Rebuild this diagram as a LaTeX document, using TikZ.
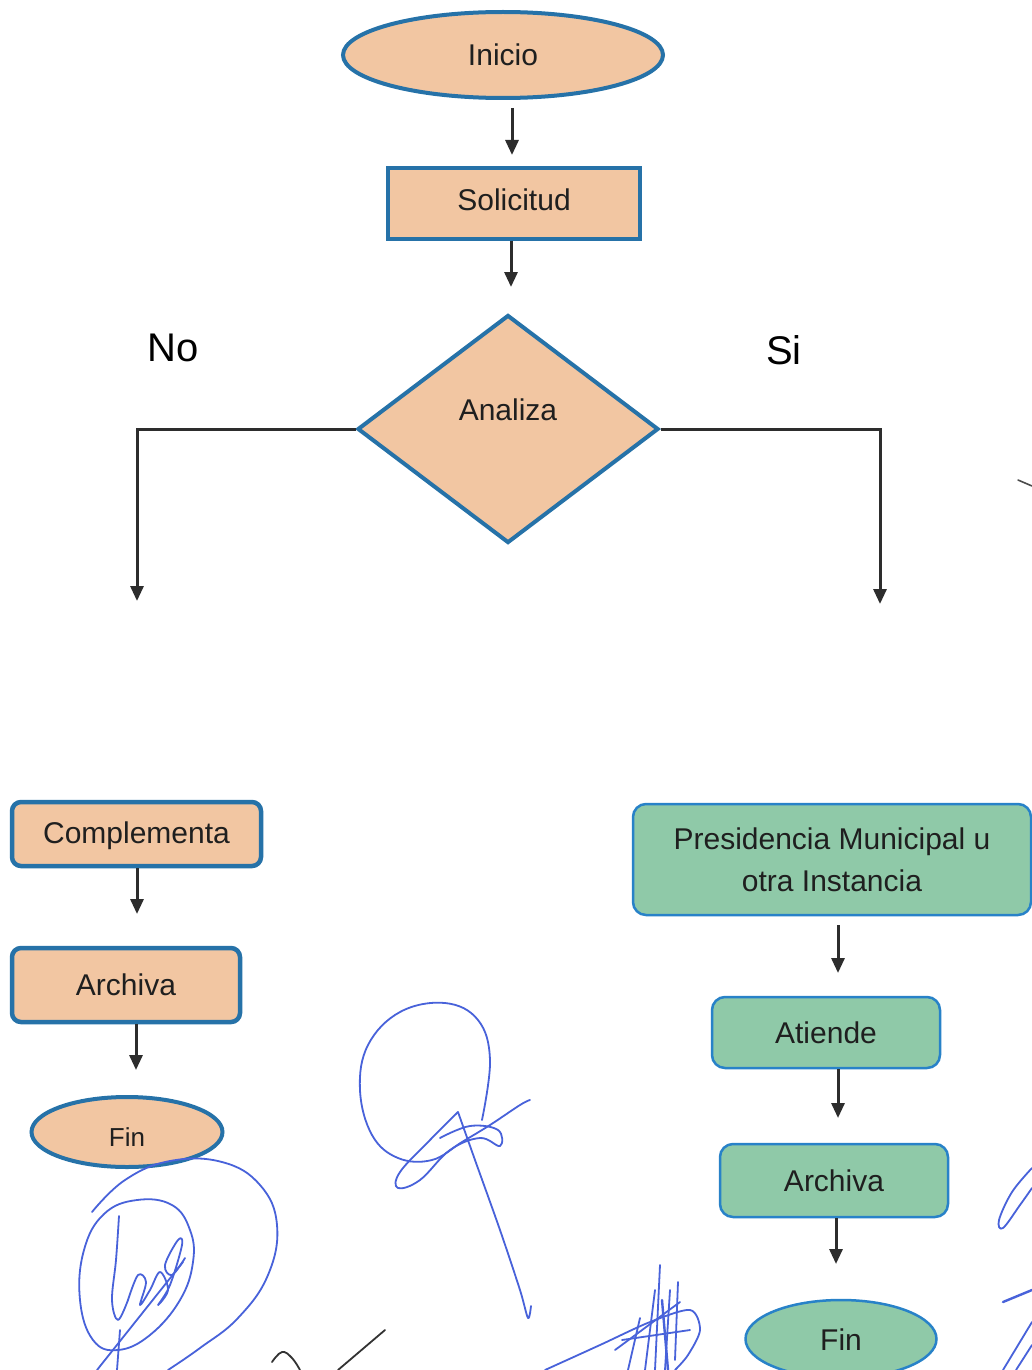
\documentclass[tikz,border=0pt]{standalone}
\usepackage{fontspec}
\setmainfont{Liberation Sans}
\usetikzlibrary{shapes.geometric,arrows.meta}

\definecolor{tan}{RGB}{242,198,162}
\definecolor{mint}{RGB}{143,201,168}
\definecolor{edgeblue}{RGB}{38,114,168}
\definecolor{edgeblue2}{RGB}{40,130,200}
\definecolor{arrowgray}{RGB}{45,45,45}
\definecolor{ink}{RGB}{72,98,218}

\tikzset{
  txt/.style={font=\fontsize{30}{42}\selectfont, text=black!88},
  tanbox/.style={txt, draw=edgeblue, fill=tan, line width=4pt, inner sep=0pt},
  greenbox/.style={txt, draw=edgeblue2, fill=mint, line width=2.5pt, inner sep=0pt, rounded corners=13pt},
  flow/.style={draw=arrowgray, line width=3pt, -{Triangle[length=15pt,width=13pt]}},
  pen/.style={draw=ink, line width=1.8pt, line cap=round, line join=round},
}

\begin{document}
\begin{tikzpicture}[x=1pt, y=-1pt]
\useasboundingbox (0,0) rectangle (1032,1370);
\fill[white] (0,0) rectangle (1032,1370);

% main trunk
\node[tanbox, ellipse, minimum width=320pt, minimum height=86pt] (inicio) at (503,55) {Inicio};
\node[tanbox, rectangle, minimum width=252pt, minimum height=71pt] (solicitud) at (514,203) {};
\node[txt] (solicitudtxt) at (514,200) {Solicitud};
\node[tanbox, diamond, minimum width=301pt, minimum height=228pt] (analiza) at (508,429) {};
\node[txt] (analizatxt) at (508,410) {Analiza};

\coordinate (a1s) at (512,108);
\coordinate (a1e) at (512,155);
\draw[flow] (a1s) -- (a1e);
\coordinate (a2e) at (511,287);
\draw[flow] (solicitud.south -| a2e) -- (a2e);

% branches
\coordinate (noend) at (137,601);
\coordinate (siend) at (880,604);
\draw[flow] (analiza.west) -| (noend);
\draw[flow] (analiza.east) -| (siend);

\node[font=\fontsize{40}{40}\selectfont] (no) at (173,348) {No};
\node[font=\fontsize{40}{40}\selectfont] (si) at (784,350) {Si};

% "No" branch
\node[tanbox, rounded corners=9pt, line width=4.5pt, minimum width=249pt, minimum height=64pt] (compl) at (136.5,834) {};
\node[txt] (compltxt) at (136.5,836) {Complementa};
\node[tanbox, rounded corners=9pt, line width=4.5pt, minimum width=228pt, minimum height=74pt] (archl) at (126,985) {Archiva};
\node[tanbox, ellipse, minimum width=191pt, minimum height=70pt] (finl) at (127,1132) {};
\node[font=\fontsize{26}{30}\selectfont, text=black!88] (finltxt) at (127,1137) {Fin};

\coordinate (l1e) at (137,914);
\draw[flow] (compl.south -| l1e) -- (l1e);
\coordinate (l2e) at (136,1070);
\draw[flow] (archl.south -| l2e) -- (l2e);

% "Si" branch
\node[greenbox, minimum width=398pt, minimum height=111pt, align=center] (pres) at (832,859.5) {Presidencia Municipal u\\otra Instancia};
\node[greenbox, minimum width=228pt, minimum height=71pt] (atiende) at (826,1032.5) {Atiende};
\node[greenbox, minimum width=228pt, minimum height=73pt] (archr) at (834,1180.5) {Archiva};
\node[greenbox, ellipse, minimum width=191pt, minimum height=78pt, rounded corners=0pt] (finr) at (841,1339) {};
\node[txt] (finrtxt) at (841,1340) {Fin};

\coordinate (r1s) at (838,925);
\coordinate (r1e) at (838,973);
\draw[flow] (r1s) -- (r1e);
\coordinate (r2e) at (838,1118);
\draw[flow] (atiende.south -| r2e) -- (r2e);
\coordinate (r3e) at (836,1264);
\draw[flow] (archr.south -| r3e) -- (r3e);

% signatures in ink
% circled signature, lower left
\draw[pen] plot[smooth, tension=0.7] coordinates {(92,1212) (125,1180) (170,1161) (222,1162) (260,1185) (277,1225) (268,1275) (238,1318) (200,1348) (168,1370)};
\draw[pen] plot[smooth cycle, tension=0.7] coordinates {(137,1200) (172,1205) (190,1230) (193,1262) (180,1300) (150,1335) (118,1350) (93,1340) (80,1300) (84,1250) (104,1214)};
\draw[pen] plot[smooth, tension=0.6] coordinates {(119,1216) (116,1260) (112,1300) (118,1320) (128,1300)};
\draw[pen] plot[smooth, tension=0.6] coordinates {(128,1300) (138,1275) (146,1282) (140,1305) (150,1290) (160,1272) (168,1290) (158,1305) (170,1285) (182,1245) (178,1240) (165,1265) (172,1275) (185,1258)};
\draw[pen] (97,1370) -- (183,1262);
\draw[pen] (117,1370) -- (120,1330);

% looped signature, centre
\draw[pen] plot[smooth, tension=0.65] coordinates {(482,1120) (490,1060) (478,1020) (445,1003) (400,1012) (368,1045) (360,1090) (372,1135) (398,1158) (432,1160) (462,1142) (490,1125) (520,1105) (530,1100)};
\draw[pen] plot[smooth, tension=0.65] coordinates {(458,1112) (430,1140) (400,1172) (398,1188) (420,1180) (450,1150) (480,1138) (500,1146) (498,1130) (470,1126) (440,1138)};
\draw[pen] plot[smooth, tension=0.5] coordinates {(458,1112) (475,1160) (500,1230) (520,1290) (528,1318) (531,1306)};

% hatched signature, bottom centre
\draw[pen] plot[smooth, tension=0.5] coordinates {(545,1370) (600,1345) (650,1322) (690,1310) (700,1330) (688,1355) (675,1370)};
\draw[pen] (628,1370) -- (640,1318);
\draw[pen] (645,1370) -- (655,1290);
\draw[pen] (655,1370) -- (660,1265);
\draw[pen] (665,1370) -- (670,1290);
\draw[pen] (675,1360) -- (678,1282);
\draw[pen] (615,1350) -- (680,1302);
\draw[pen] (622,1340) -- (690,1330);
\draw[pen, line width=2.4pt] (662,1300) -- (668,1370);

% dark pen stroke, bottom
\draw[line width=1.8pt, black!80, line cap=round] plot[smooth, tension=0.7] coordinates {(272,1362) (282,1352) (292,1358) (300,1370)};
\draw[line width=1.8pt, black!80, line cap=round] (338,1370) -- (385,1330);

% strokes along the right edge
\draw[pen] plot[smooth, tension=0.6] coordinates {(1032,1168) (1012,1192) (999,1220) (1003,1228) (1020,1205) (1032,1188)};
\draw[pen, line width=2.4pt] (1003,1302) -- (1032,1290);
\draw[pen] (1003,1370) -- (1032,1322);
\draw[pen] (1016,1370) -- (1032,1345);
\draw[line width=1.6pt, black!70, line cap=round] (1018,480) -- (1032,486);
\end{tikzpicture}
\end{document}
